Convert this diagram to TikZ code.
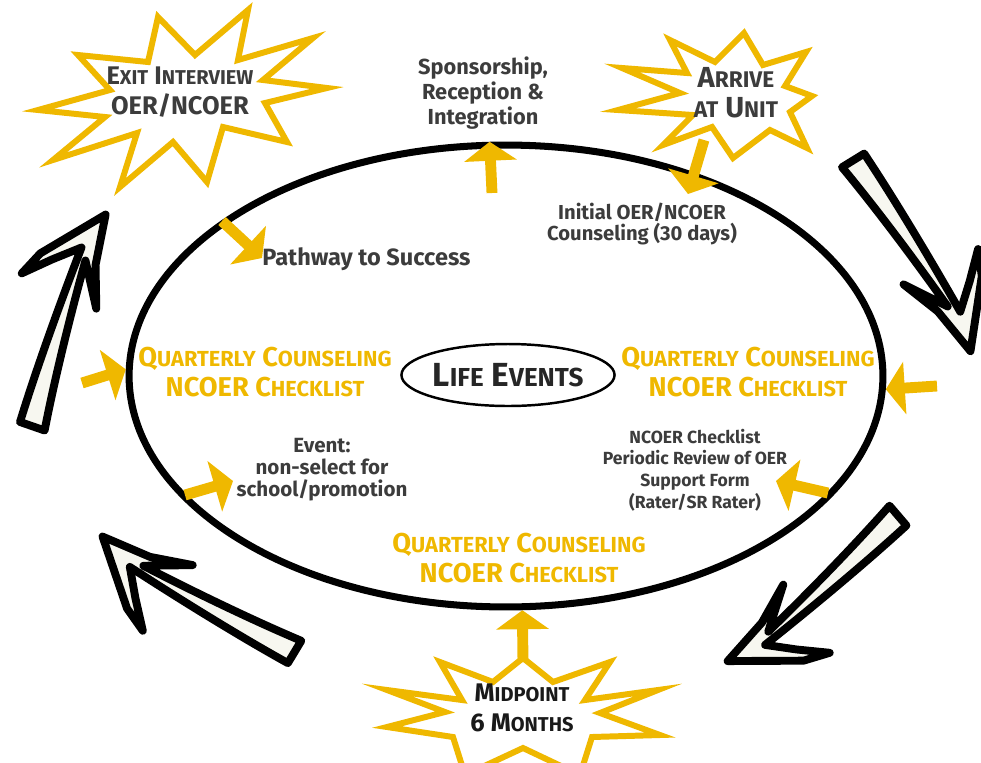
\documentclass[tikz,border=0pt]{standalone}
\usepackage{fontspec}
\setmainfont{Fira Sans}
\usetikzlibrary{arrows.meta,shapes.geometric}
\definecolor{gold}{HTML}{EFB800}
\definecolor{ink}{HTML}{3C3C3C}
\definecolor{cream}{HTML}{F7F7F0}
\def\smsize{9}
\newcommand\lowcap[1]{{\fontsize{\smsize}{0}\selectfont #1}}
\tikzstyle{ringline}=[draw=black,line width=4pt,ellipse,minimum width=15.08cm,minimum height=9.24cm,inner sep=0pt]
\tikzstyle{lifering}=[draw=black,line width=1.4pt,ellipse,minimum width=4.24cm,minimum height=1.24cm,inner sep=0pt,text=black!85,font=\bfseries\fontsize{19}{20}\selectfont\def\smsize{14.8}]
\tikzstyle{burst}=[draw=gold,fill=white,line width=3.4pt,line join=miter]
\tikzstyle{swooshline}=[draw=black,fill=cream,line width=4.5pt,line join=round]
\tikzstyle{goldarrow}=[draw=gold,line width=6.2pt,-{Triangle[width=29.5pt,length=10.8pt]}]
\tikzstyle{note}=[text=ink,align=center,inner sep=0pt,font=\bfseries\fontsize{12.4}{14}\selectfont]
\tikzstyle{small note}=[note,font=\bfseries\fontsize{10}{12.3}\selectfont]
\tikzstyle{quarter}=[text=gold,align=center,inner sep=0pt,font=\bfseries\fontsize{15.5}{17}\selectfont\def\smsize{12.4}]
\tikzstyle{burst text}=[text=ink,align=center,inner sep=0pt,font=\bfseries\fontsize{14.5}{16.8}\selectfont\def\smsize{11.4}]
\tikzset{swoosh/.pic={
  \draw[swooshline] (4,-13) -- (4,13) .. controls (60,5) and (130,-1) .. (178,-4)
    -- (136,22) -- (177,7) -- (228,0) -- (170,-49) -- (145,-60) -- (168,-36) -- (189,-12)
    .. controls (130,-14) and (60,-15) .. (4,-13) -- cycle;
}}
\begin{document}
\begin{tikzpicture}[x=0.02cm,y=-0.02cm]
\useasboundingbox (0,0) rectangle (981,762);
% the cycle
\node[ringline] (ring) at (506,376) {};
\node[lifering] (life) at (508,375) {L\lowcap{IFE} E\lowcap{VENTS}};
% swirling arrows round the cycle
\pic[rotate=-58.4] at (851,157) {swoosh};
\pic[rotate=-139.5] at (901,513) {swoosh};
\pic[rotate=149] at (298,654) {swoosh};
\pic[rotate=70.9] at (31,430) {swoosh};
% starbursts
\draw[burst] plot coordinates {(158,17) (195,55) (248,10) (238,60) (313,38) (263,80) (327,88) (265,103)
  (287,142) (223,127) (207,182) (173,142) (120,187) (137,133) (53,160) (105,117) (38,110) (110,90)
  (78,55) (148,62)} -- cycle;
\draw[burst] plot coordinates {(744,33) (763,65) (806,52) (785,86) (812,96) (790,112) (807,148)
  (770,130) (733,158) (712,127) (663,145) (693,115) (618,110) (680,93) (622,68) (687,73) (670,40)
  (715,62)} -- cycle;
\draw[burst] plot coordinates {(523,658) (553,682) (610,662) (585,700) (658,690) (600,713) (660,735)
  (592,737) (580,775) (523,748) (465,775) (453,737) (387,727) (445,712) (387,690) (462,700)
  (440,662) (493,682)} -- cycle;
\node[burst text] (exit) at (180,92) {E\lowcap{XIT} I\lowcap{NTERVIEW}\\OER/NCOER};
\node[burst text,font=\bfseries\fontsize{16.5}{17}\selectfont\def\smsize{12.9}] (arrive) at (736,93) {A\lowcap{RRIVE}\\\lowcap{AT} U\lowcap{NIT}};
\node[burst text,text=black!90] (midpoint) at (522,708) {M\lowcap{IDPOINT}\\6 M\lowcap{ONTHS}};
% texts
\node[note] (sponsor) at (483,93) {Sponsorship,\\Reception \&\\Integration};
\node[note,font=\bfseries\fontsize{11.5}{12.5}\selectfont] (initial) at (642,224) {Initial OER/NCOER\\Counseling (30 days)};
\node[note,anchor=west,font=\bfseries\fontsize{13.4}{15}\selectfont] (pathway) at (262,259) {Pathway to Success};
\node[quarter] (qcleft) at (265,372) {Q\lowcap{UARTERLY} C\lowcap{OUNSELING}\\NCOER C\lowcap{HECKLIST}};
\node[quarter] (qcright) at (748,372) {Q\lowcap{UARTERLY} C\lowcap{OUNSELING}\\NCOER C\lowcap{HECKLIST}};
\node[quarter] (qcbottom) at (519,558) {Q\lowcap{UARTERLY} C\lowcap{OUNSELING}\\NCOER C\lowcap{HECKLIST}};
\node[note,font=\bfseries\fontsize{11.7}{12.5}\selectfont] (event) at (322,470) {Event:\\non-select for\\school/promotion};
\node[small note] (review) at (695,470) {NCOER Checklist\\Periodic Review of OER\\Support Form\\(Rater/SR Rater)};
% gold arrows
\coordinate (srifoot) at (492,193);
\coordinate (arrivefoot) at (704,140);
\coordinate (initialtip) at (688,194);
\coordinate (pathfoot) at (222,221);
\coordinate (pathtip) at (262,258);
\coordinate (leftfoot) at (82,383);
\coordinate (rightfoot) at (937,386);
\coordinate (reviewfoot) at (828,493);
\coordinate (reviewtip) at (776,481);
\coordinate (eventfoot) at (185,495);
\coordinate (eventtip) at (233,481);
\coordinate (midfoot) at (523,662);
\coordinate (sritip) at (ring.94);
\coordinate (lefttip) at (ring.179);
\coordinate (righttip) at (ring.-2);
\coordinate (midtip) at (ring.-86);
\foreach \from/\onto in {srifoot/sritip, leftfoot/lefttip, rightfoot/righttip, midfoot/midtip,
  arrivefoot/initialtip, pathfoot/pathtip, reviewfoot/reviewtip, eventfoot/eventtip}
  \draw[goldarrow] (\from) -- (\onto);
\end{tikzpicture}
\end{document}
